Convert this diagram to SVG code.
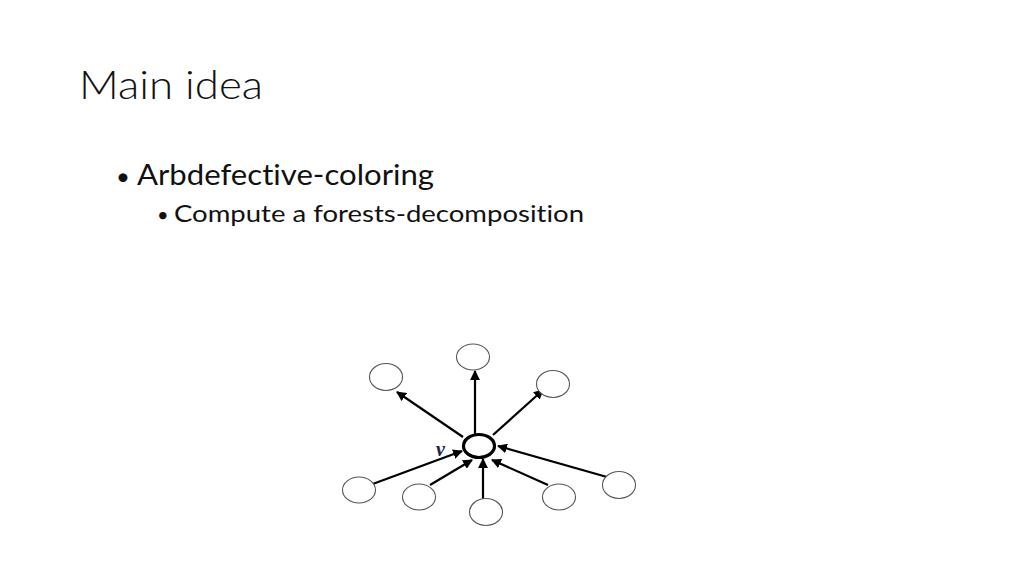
<svg xmlns="http://www.w3.org/2000/svg" width="1024" height="576" viewBox="0 0 1024 576">
<style>
.t{font-family:Lato,"Open Sans","Liberation Sans",sans-serif;fill:#111;font-variant-ligatures:none;font-feature-settings:"liga" 0,"clig" 0}
.n{fill:#fff;stroke:#555;stroke-width:1.1}
.e{stroke:#000;stroke-width:2.2;fill:none;marker-end:url(#ah)}
</style>
<defs>
<marker id="ah" viewBox="0 0 10 10" refX="9" refY="5" markerWidth="4.5" markerHeight="4.5" orient="auto" markerUnits="strokeWidth">
<path d="M0,0 L10,5 L0,10 z" fill="#000"/>
</marker>
</defs>
<rect width="1024" height="576" fill="#fff"/>
<text class="t" x="79" y="99" font-size="40" font-weight="300" textLength="184" lengthAdjust="spacingAndGlyphs">Main idea</text>
<text class="t" x="116" y="185" font-size="24">•</text>
<text class="t" x="137" y="185" font-size="29" textLength="297" lengthAdjust="spacingAndGlyphs">Arbdefective-coloring</text>
<text class="t" x="157" y="222" font-size="20">•</text>
<text class="t" x="174" y="222" font-size="23.5" textLength="410" lengthAdjust="spacingAndGlyphs">Compute a forests-decomposition</text>
<g id="connectors">
<line class="e" x1="475" y1="434" x2="475" y2="371"/>
<line class="e" x1="463" y1="437" x2="397" y2="392"/>
<line class="e" x1="493" y1="435" x2="543" y2="390"/>
<line class="e" x1="370" y1="485" x2="462" y2="451"/>
<line class="e" x1="430" y1="485" x2="472" y2="460"/>
<line class="e" x1="483" y1="499" x2="483" y2="459"/>
<line class="e" x1="548" y1="485" x2="492" y2="460"/>
<line class="e" x1="607" y1="477" x2="498" y2="446"/>
</g>
<g id="node-top"><ellipse class="n" cx="473" cy="357" rx="16.5" ry="13"/></g>
<g id="node-upper-left"><ellipse class="n" cx="386" cy="377" rx="16.5" ry="13.5"/></g>
<g id="node-upper-right"><ellipse class="n" cx="553" cy="384" rx="16.5" ry="13.5"/></g>
<g id="node-lower-left"><ellipse class="n" cx="359" cy="490" rx="16.5" ry="13"/></g>
<g id="node-lower-left-2"><ellipse class="n" cx="419" cy="497" rx="16.5" ry="13"/></g>
<g id="node-bottom"><ellipse class="n" cx="486" cy="512" rx="16.5" ry="13.5"/></g>
<g id="node-lower-right"><ellipse class="n" cx="559" cy="497" rx="16.5" ry="13"/></g>
<g id="node-right"><ellipse class="n" cx="619" cy="485" rx="16.5" ry="13.5"/></g>
<g id="node-v">
<ellipse cx="479" cy="446" rx="15.5" ry="11.5" fill="#fff" stroke="#000" stroke-width="3.2"/>
<text x="436" y="456" font-family="Liberation Serif,serif" font-style="italic" font-weight="bold" font-size="20" fill="#1c2450">v</text>
</g>
</svg>
